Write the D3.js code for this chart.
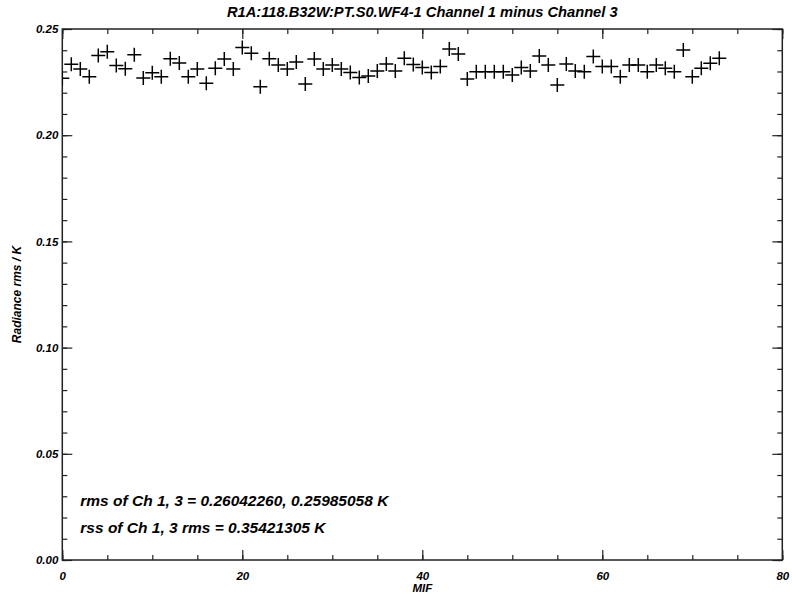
<!DOCTYPE html>
<html><head><meta charset="utf-8">
<script src="https://cdn.jsdelivr.net/npm/d3@7"></script>
<style>
body{margin:0;background:#fff;}
text{font-family:"Liberation Sans",Arial,sans-serif;font-weight:bold;font-style:italic;fill:#000;}
</style></head>
<body>
<script>
const mif = [0,1,2,3,4,5,6,7,8,9,10,11,12,13,14,15,16,17,18,19,20,21,22,23,24,25,26,27,28,29,30,31,32,33,34,35,36,37,38,39,40,41,42,43,44,45,46,47,48,49,50,51,52,53,54,55,56,57,58,59,60,61,62,63,64,65,66,67,68,69,70,71,72,73];
const radianceRms = [0.2268,0.2334,0.2312,0.2275,0.2375,0.2393,0.2328,0.2313,0.2379,0.2269,
0.2294,0.2275,0.2360,0.2340,0.2275,0.2312,0.2244,0.2315,0.2359,0.2312,
0.2413,0.2386,0.2228,0.2360,0.2331,0.2312,0.2345,0.2241,0.2359,0.2312,
0.2331,0.2312,0.2295,0.2272,0.2279,0.2302,0.2335,0.2302,0.2362,0.2333,
0.2319,0.2295,0.2323,0.2406,0.2382,0.2265,0.2299,0.2299,0.2299,0.2299,
0.2283,0.2319,0.2302,0.2373,0.2331,0.2236,0.2335,0.2302,0.2299,0.2370,
0.2323,0.2323,0.2275,0.2331,0.2331,0.2299,0.2331,0.2315,0.2299,0.2401,
0.2275,0.2315,0.2339,0.2362];
const xTicks = [0,20,40,60,80];
const yTicks = [0.00,0.05,0.10,0.15,0.20,0.25];
const title = "R1A:118.B32W:PT.S0.WF4-1 Channel 1 minus Channel 3";
const xTitle = "MIF";
const yTitle = "Radiance rms / K";
const notes = ["rms of Ch 1, 3 = 0.26042260, 0.25985058 K","rss of Ch 1, 3 rms = 0.35421305 K"];
const noteY = [0.0255, 0.0128];

const W=792,H=600;
const L=62.3,R=782.3,T=29,B=560;
const svg=d3.select("body").append("svg").attr("width",W).attr("height",H);
const x=d3.scaleLinear().domain([0,80]).range([L,R]);
const y=d3.scaleLinear().domain([0,0.25]).range([B,T]);

svg.append("clipPath").attr("id","clip").append("rect").attr("x",L).attr("y",T).attr("width",R-L).attr("height",B-T);

const axCol="#222";
const xMinor=d3.range(0,81,5);
const yMinor=d3.range(0,26).map(d=>d/100);
function clean(g){g.select(".domain").remove();g.selectAll("line").attr("stroke",axCol).attr("stroke-width",1.2);}
function styleText(g,fs){g.selectAll("text").attr("font-size",fs).style("font-family","Liberation Sans").style("font-weight","bold").style("font-style","italic").attr("fill","#000");}
// bottom
svg.append("g").attr("transform",`translate(0,${B})`)
 .call(d3.axisBottom(x).tickValues(xTicks).tickSize(-10).tickPadding(12).tickFormat(d3.format("d")))
 .call(clean).call(g=>styleText(g,11.5));
svg.append("g").attr("transform",`translate(0,${B})`).call(d3.axisBottom(x).tickValues(xMinor).tickSize(-5).tickFormat("")).call(clean);
// top
svg.append("g").attr("transform",`translate(0,${T})`).call(d3.axisTop(x).tickValues(xTicks).tickSize(-10).tickFormat("")).call(clean);
svg.append("g").attr("transform",`translate(0,${T})`).call(d3.axisTop(x).tickValues(xMinor).tickSize(-5).tickFormat("")).call(clean);
// left
svg.append("g").attr("transform",`translate(${L},0)`)
 .call(d3.axisLeft(y).tickValues(yTicks).tickSize(-10).tickPadding(4).tickFormat(d3.format(".2f")))
 .call(clean).call(g=>styleText(g,11.5));
svg.append("g").attr("transform",`translate(${L},0)`).call(d3.axisLeft(y).tickValues(yMinor).tickSize(-5).tickFormat("")).call(clean);
// right
svg.append("g").attr("transform",`translate(${R},0)`).call(d3.axisRight(y).tickValues(yTicks).tickSize(-10).tickFormat("")).call(clean);
svg.append("g").attr("transform",`translate(${R},0)`).call(d3.axisRight(y).tickValues(yMinor).tickSize(-5).tickFormat("")).call(clean);

// frame
svg.append("rect").attr("x",L).attr("y",T).attr("width",R-L).attr("height",B-T)
 .attr("fill","none").attr("stroke",axCol).attr("stroke-width",1.5);

// markers
const sz=7;
const pts=svg.append("g").attr("clip-path","url(#clip)");
pts.selectAll("path").data(mif).enter().append("path")
 .attr("d",(d,i)=>{const cx=x(d),cy=y(radianceRms[i]);return `M${cx-sz},${cy}H${cx+sz}M${cx},${cy-sz}V${cy+sz}`;})
 .attr("stroke","#000").attr("stroke-width",1.5).attr("fill","none");

// titles
svg.append("text").attr("x",(L+R)/2).attr("y",17).attr("text-anchor","middle").attr("font-size",14.7).text(title);
svg.append("text").attr("x",(L+R)/2).attr("y",592).attr("text-anchor","middle").attr("font-size",11.5).text(xTitle);
svg.append("text").attr("transform",`translate(21,${(T+B)/2}) rotate(-90)`).attr("text-anchor","middle").attr("font-size",12).text(yTitle);
svg.selectAll("text.note").data(notes).enter().append("text").attr("class","note")
 .attr("x",x(2)).attr("y",(d,i)=>y(noteY[i])).attr("font-size",15.5).text(d=>d);
</script>
</body></html>
